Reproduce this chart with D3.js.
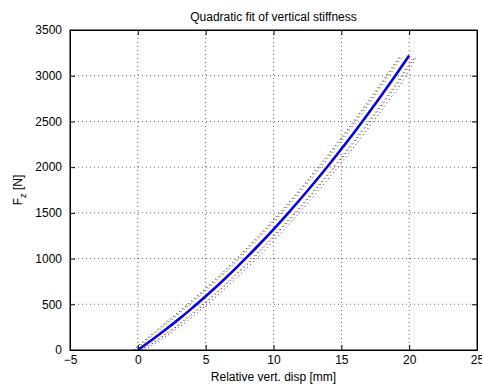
<!DOCTYPE html>
<html>
<head>
<meta charset="utf-8">
<script src="https://cdn.jsdelivr.net/npm/d3@7"></script>
<style>
  body { margin: 0; background: #fff; }
  svg text { font-family: "Liberation Sans", Arial, sans-serif; font-size: 12px; fill: #000; }
</style>
</head>
<body>
<svg id="chart" width="482" height="386"></svg>
<script>
// fitted quadratic curve, sampled every 1 mm
const fitDisp = [0, 1, 2, 3, 4, 5, 6, 7, 8, 9, 10, 11, 12, 13, 14, 15, 16, 17, 18, 19, 20];
const fitForce = [0, 106, 218, 335, 458, 588, 722, 863, 1010, 1162, 1320, 1484, 1654, 1829, 2010, 2198, 2390, 2589, 2794, 3004, 3220];

// measured curves: displacement at each force level
const forceLevels = [0, 250, 500, 750, 1000, 1250, 1500, 1750, 2000, 2250, 2500, 2750, 3000, 3200];
const greenUpper = [-0.3, 1.75, 3.78, 5.65, 7.38, 9.0, 10.55, 12.0, 13.4, 14.73, 16.0, 17.24, 18.42, 19.35];
const redUpper = [-0.2, 1.85, 3.88, 5.75, 7.5, 9.1, 10.65, 12.1, 13.5, 14.83, 16.1, 17.33, 18.52, 19.45];
const blackUpper = [-0.35, 1.65, 3.68, 5.55, 7.28, 8.9, 10.45, 11.9, 13.28, 14.62, 15.9, 17.13, 18.32, 19.25];
const redLower = [0.2, 2.72, 4.78, 6.65, 8.4, 10.0, 11.55, 13.0, 14.4, 15.73, 17.0, 18.24, 19.43, 20.3];
const blackLower = [0.3, 2.82, 4.88, 6.75, 8.5, 10.1, 11.65, 13.1, 14.5, 15.83, 17.1, 18.34, 19.53, 20.4];
const blueLower = [0.5, 3.05, 5.12, 7.0, 8.74, 10.36, 11.9, 13.35, 14.74, 16.08, 17.36, 18.6, 19.78, 20.5];

const xTicks = [-5, 0, 5, 10, 15, 20, 25];
const yTicks = [0, 500, 1000, 1500, 2000, 2500, 3000, 3500];

const measured = [
  { disp: greenUpper, color: "#00b000" },
  { disp: redUpper, color: "#ff0000" },
  { disp: blackUpper, color: "#000000" },
  { disp: redLower, color: "#ff0000" },
  { disp: blackLower, color: "#000000" },
  { disp: blueLower, color: "#0000ff" },
];

const plotLeft = 70, plotRight = 477, plotTop = 30, plotBottom = 350;

let svg = d3.select("#chart");

let x = d3.scaleLinear().domain([-5, 25]).range([plotLeft, plotRight]);
let y = d3.scaleLinear().domain([0, 3500]).range([plotBottom, plotTop]);

// grid
svg.append("g")
  .selectAll("line")
  .data(xTicks.slice(1, -1))
  .join("line")
  .attr("x1", d => x(d)).attr("x2", d => x(d))
  .attr("y1", plotTop).attr("y2", plotBottom)
  .attr("stroke", "#000").attr("stroke-width", 0.6)
  .attr("stroke-dasharray", "1,3");

svg.append("g")
  .selectAll("line")
  .data(yTicks.slice(1, -1))
  .join("line")
  .attr("x1", plotLeft).attr("x2", plotRight)
  .attr("y1", d => y(d)).attr("y2", d => y(d))
  .attr("stroke", "#000").attr("stroke-width", 0.6)
  .attr("stroke-dasharray", "1,3");

// measured curves
let line = d3.line().x(d => x(d[0])).y(d => y(d[1])).curve(d3.curveMonotoneX);

measured.forEach(m => {
  svg.append("path")
    .datum(m.disp.map((d, i) => [d, forceLevels[i]]))
    .attr("d", line)
    .attr("fill", "none")
    .attr("stroke", m.color)
    .attr("stroke-width", 0.9)
    .attr("stroke-dasharray", "1,3");
});

// fit
svg.append("path")
  .datum(fitDisp.map((d, i) => [d, fitForce[i]]))
  .attr("d", line)
  .attr("fill", "none")
  .attr("stroke", "#0000ff")
  .attr("stroke-width", 2.6);

// axes with inward ticks on all sides
svg.append("g")
  .attr("transform", `translate(0,${plotBottom})`)
  .call(d3.axisBottom(x).tickValues(xTicks).tickSizeInner(-5).tickSizeOuter(0).tickPadding(5)
    .tickFormat(d => d < 0 ? "\u2212" + Math.abs(d) : d));
svg.append("g")
  .attr("transform", `translate(0,${plotTop})`)
  .call(d3.axisTop(x).tickValues(xTicks).tickSizeInner(-5).tickSizeOuter(0).tickFormat(""));
svg.append("g")
  .attr("transform", `translate(${plotLeft},0)`)
  .call(d3.axisLeft(y).tickValues(yTicks).tickSizeInner(-5).tickSizeOuter(0).tickPadding(8)
    .tickFormat(d3.format("d")));
svg.append("g")
  .attr("transform", `translate(${plotRight},0)`)
  .call(d3.axisRight(y).tickValues(yTicks).tickSizeInner(-5).tickSizeOuter(0).tickFormat(""));

svg.selectAll(".domain").attr("stroke", "#000");
svg.selectAll(".tick line").attr("stroke", "#000");
svg.selectAll(".tick text").attr("font-size", 12).attr("font-family", "Liberation Sans, Arial, sans-serif").attr("fill", "#000");

svg.append("rect")
  .attr("x", plotLeft).attr("y", plotTop)
  .attr("width", plotRight - plotLeft).attr("height", plotBottom - plotTop)
  .attr("fill", "none").attr("stroke", "#000");

// labels
svg.append("text")
  .text("Quadratic fit of vertical stiffness")
  .attr("x", (plotLeft + plotRight) / 2)
  .attr("y", 21)
  .attr("font-size", 11)
  .attr("text-anchor", "middle");

svg.append("text")
  .text("Relative vert. disp [mm]")
  .attr("x", (plotLeft + plotRight) / 2)
  .attr("y", 381)
  .attr("text-anchor", "middle");

let yl = svg.append("text")
  .attr("transform", `translate(22,${(plotTop + plotBottom) / 2}) rotate(-90)`)
  .attr("text-anchor", "middle");
yl.append("tspan").text("F");
yl.append("tspan").text("z").attr("font-size", 9).attr("dy", 4);
yl.append("tspan").text(" [N]").attr("dy", -4);
</script>
</body>
</html>
